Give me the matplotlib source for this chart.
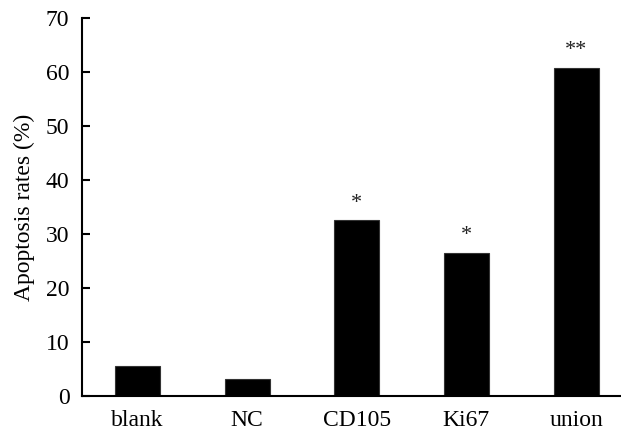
import matplotlib
matplotlib.use("Agg")
import matplotlib.pyplot as plt

# data
groups = ["blank", "NC", "CD105", "Ki67", "union"]
rates = [5.6, 3.1, 32.5, 26.5, 60.8]
marks = ["", "", "*", "*", "**"]

plt.rcParams["font.family"] = ["Liberation Serif", "DejaVu Serif"]

fig = plt.figure(figsize=(6.21, 4.34), dpi=100)
ax = fig.add_axes([0.132, 0.0876, 0.868, 0.871])

x = range(len(groups))
ax.bar(x, rates, width=0.41, color="black", edgecolor="#333333", linewidth=0.8)

# significance stars
for i, (v, m) in enumerate(zip(rates, marks)):
    if m:
        ax.text(i, v + 2.3, m, ha="center", va="baseline", fontsize=16,
                color="#222222")

ax.set_xlim(-0.505, 4.41)
ax.set_ylim(0, 70)
ax.set_yticks(range(0, 71, 10))
ax.set_xticks(list(x))
ax.set_xticklabels(groups)
ax.tick_params(axis="y", direction="in", length=6, width=1.5, labelsize=17, pad=9)
ax.tick_params(axis="x", length=0, labelsize=17, pad=10)
ax.set_ylabel("Apoptosis rates (%)", fontsize=17, labelpad=8)

for s in ["top", "right"]:
    ax.spines[s].set_visible(False)
for s in ["left", "bottom"]:
    ax.spines[s].set_linewidth(1.5)

fig.savefig("out.png", dpi=100)
